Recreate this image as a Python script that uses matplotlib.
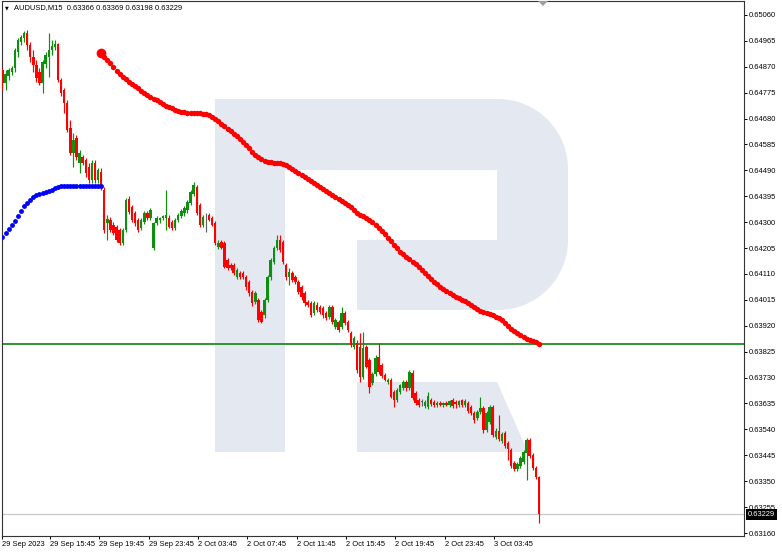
import numpy as np
import matplotlib
matplotlib.use("Agg")
import matplotlib.pyplot as plt
from matplotlib.path import Path
from matplotlib.patches import PathPatch, Polygon
import matplotlib.transforms as mtransforms

# ---------------- data (prices in points, 1 point = 0.00001) ----------------
opens = [64858, 64811, 64836, 64851, 64866, 64924, 64961, 64976, 64994, 64950,
         64906, 64877, 64851, 64811, 64880, 64906, 64932, 64943, 64954, 64822,
         64785, 64737, 64646, 64554, 64609, 64517, 64539, 64528, 64502, 64455,
         64517, 64455, 64484, 64418, 64297, 64308, 64290, 64282, 64271, 64224,
         64271, 64385, 64356, 64334, 64308, 64279, 64301, 64334, 64315, 64205,
         64297, 64308, 64315, 64315, 64315, 64301, 64279, 64308, 64323, 64334,
         64345, 64370, 64403, 64429, 64363, 64290, 64319, 64326, 64315, 64297,
         64209, 64227, 64224, 64161, 64143, 64143, 64099, 64114, 64114, 64099,
         64081, 64044, 64007, 64015, 63971, 63960, 64015, 64099, 64154, 64205,
         64235, 64227, 64143, 64099, 64114, 64099, 64081, 64062, 64040, 64007,
         64004, 63967, 63996, 63989, 63985, 63967, 63952, 63989, 63916, 63934,
         63916, 63967, 63934, 63894, 63842, 63857, 63842, 63732, 63842, 63795,
         63710, 63743, 63806, 63776, 63740, 63714, 63721, 63677, 63648, 63677,
         63692, 63714, 63692, 63747, 63674, 63648, 63641, 63626, 63622, 63648,
         63641, 63630, 63637, 63630, 63637, 63630, 63648, 63641, 63630, 63648,
         63630, 63637, 63622, 63600, 63582, 63604, 63619, 63538, 63567, 63622,
         63512, 63534, 63497, 63527, 63490, 63464, 63417, 63395, 63406, 63420,
         63453, 63501, 63446, 63398, 63366]
highs = [64866, 64858, 64866, 64873, 64939, 64976, 64987, 65001, 65005, 64961,
         64932, 64895, 64866, 64895, 64924, 64994, 64968, 64968, 64957, 64829,
         64792, 64748, 64675, 64627, 64620, 64565, 64547, 64535, 64517, 64528,
         64528, 64499, 64499, 64429, 64326, 64319, 64301, 64290, 64279, 64279,
         64389, 64396, 64363, 64341, 64315, 64315, 64341, 64341, 64352, 64301,
         64323, 64319, 64326, 64418, 64326, 64308, 64315, 64334, 64348, 64359,
         64381, 64418, 64447, 64436, 64370, 64326, 64334, 64334, 64323, 64304,
         64235, 64235, 64231, 64169, 64150, 64150, 64132, 64121, 64121, 64106,
         64088, 64051, 64048, 64022, 63978, 64022, 64106, 64169, 64213, 64253,
         64253, 64235, 64150, 64132, 64121, 64106, 64088, 64070, 64048, 64015,
         64011, 64011, 64007, 63996, 63993, 63974, 63996, 63996, 63949, 63941,
         63989, 63974, 63941, 63901, 63883, 63868, 63894, 63897, 63850, 63802,
         63751, 63813, 63857, 63784, 63747, 63729, 63729, 63685, 63692, 63707,
         63721, 63721, 63758, 63758, 63681, 63655, 63652, 63648, 63677, 63655,
         63648, 63644, 63644, 63641, 63644, 63648, 63655, 63648, 63648, 63652,
         63652, 63644, 63630, 63608, 63611, 63659, 63626, 63608, 63630, 63630,
         63545, 63593, 63530, 63534, 63497, 63472, 63424, 63420, 63442, 63464,
         63508, 63508, 63453, 63406, 63369]
lows = [64785, 64785, 64822, 64840, 64851, 64906, 64950, 64961, 64932, 64888,
        64851, 64814, 64803, 64774, 64866, 64833, 64913, 64932, 64814, 64763,
        64701, 64631, 64547, 64502, 64528, 64480, 64510, 64466, 64444, 64444,
        64444, 64444, 64418, 64260, 64235, 64264, 64253, 64227, 64216, 64216,
        64264, 64330, 64301, 64286, 64264, 64271, 64293, 64308, 64308, 64198,
        64290, 64297, 64308, 64271, 64279, 64271, 64271, 64301, 64315, 64323,
        64334, 64363, 64396, 64326, 64282, 64282, 64264, 64304, 64286, 64216,
        64202, 64202, 64132, 64125, 64125, 64106, 64092, 64092, 64092, 64051,
        64029, 63993, 64000, 63934, 63930, 63949, 64007, 64088, 64147, 64198,
        64191, 64147, 64088, 64070, 64081, 64073, 64037, 64015, 63993, 63989,
        63952, 63960, 63971, 63963, 63949, 63941, 63945, 63927, 63908, 63897,
        63908, 63923, 63897, 63842, 63835, 63747, 63714, 63725, 63765, 63674,
        63703, 63736, 63743, 63729, 63718, 63707, 63655, 63622, 63641, 63670,
        63685, 63681, 63685, 63648, 63630, 63622, 63626, 63619, 63615, 63626,
        63622, 63622, 63626, 63622, 63626, 63622, 63619, 63619, 63622, 63622,
        63622, 63600, 63593, 63563, 63574, 63597, 63527, 63530, 63560, 63512,
        63505, 63497, 63490, 63472, 63428, 63398, 63387, 63387, 63398, 63413,
        63355, 63435, 63391, 63358, 63198]
closes = [64811, 64844, 64858, 64866, 64932, 64968, 64979, 64994, 64950, 64906,
          64877, 64829, 64811, 64888, 64913, 64932, 64946, 64954, 64822, 64774,
          64737, 64638, 64554, 64602, 64539, 64554, 64517, 64480, 64455, 64517,
          64455, 64491, 64429, 64271, 64312, 64271, 64260, 64235, 64224, 64271,
          64381, 64337, 64308, 64297, 64271, 64308, 64334, 64315, 64345, 64297,
          64315, 64315, 64323, 64326, 64282, 64279, 64308, 64326, 64341, 64352,
          64374, 64411, 64436, 64334, 64290, 64319, 64319, 64308, 64290, 64224,
          64224, 64205, 64136, 64132, 64132, 64114, 64125, 64099, 64099, 64062,
          64040, 64004, 64040, 63941, 63934, 64015, 64099, 64161, 64205, 64235,
          64198, 64154, 64099, 64117, 64088, 64081, 64044, 64026, 64004, 63996,
          63960, 64004, 63978, 63971, 63960, 63949, 63989, 63934, 63941, 63905,
          63967, 63930, 63905, 63850, 63875, 63758, 63732, 63839, 63769, 63696,
          63743, 63802, 63751, 63736, 63721, 63721, 63659, 63648, 63685, 63703,
          63714, 63692, 63751, 63655, 63637, 63630, 63641, 63641, 63663, 63633,
          63630, 63637, 63630, 63637, 63630, 63644, 63626, 63633, 63644, 63630,
          63644, 63608, 63600, 63574, 63604, 63619, 63538, 63600, 63622, 63519,
          63534, 63505, 63523, 63479, 63468, 63406, 63395, 63413, 63435, 63457,
          63501, 63442, 63398, 63366, 63229]

# blue indicator (bars 0..32) and red indicator (bars 32..174)
blue_line = [64246, 64260, 64275, 64290, 64304, 64323, 64341, 64359, 64370, 64381,
             64392, 64400, 64403, 64407, 64411, 64414, 64418, 64425, 64429, 64433,
             64433, 64433, 64433, 64433, 64433, 64433, 64433, 64433, 64433, 64433,
             64433, 64433, 64433]
red_line = [64921, 64906, 64895, 64884, 64869, 64855, 64844, 64833, 64825, 64814,
            64807, 64800, 64792, 64781, 64774, 64767, 64759, 64752, 64748, 64741,
            64734, 64727, 64723, 64719, 64712, 64708, 64704, 64704, 64701, 64701,
            64701, 64701, 64701, 64697, 64697, 64693, 64686, 64679, 64671, 64660,
            64653, 64642, 64635, 64624, 64616, 64605, 64594, 64583, 64572, 64557,
            64546, 64539, 64532, 64524, 64521, 64521, 64517, 64517, 64517, 64513,
            64510, 64502, 64495, 64488, 64480, 64473, 64466, 64458, 64451, 64444,
            64436, 64429, 64422, 64414, 64407, 64400, 64392, 64385, 64378, 64370,
            64363, 64356, 64345, 64334, 64326, 64323, 64315, 64308, 64301, 64290,
            64279, 64268, 64257, 64242, 64231, 64216, 64205, 64191, 64183, 64172,
            64165, 64154, 64147, 64136, 64125, 64114, 64103, 64092, 64081, 64073,
            64062, 64055, 64048, 64040, 64033, 64026, 64022, 64015, 64011, 64004,
            63996, 63989, 63982, 63974, 63971, 63967, 63963, 63960, 63952, 63949,
            63941, 63930, 63919, 63908, 63901, 63893, 63886, 63879, 63871, 63868,
            63864, 63861, 63853]
red_start = 32
level_line = 0.63853

y_tick_labels = ["0.63160", "0.63255", "0.63350", "0.63445", "0.63540", "0.63635",
                 "0.63730", "0.63825", "0.63920", "0.64015", "0.64110", "0.64205",
                 "0.64300", "0.64395", "0.64490", "0.64585", "0.64680", "0.64775",
                 "0.64870", "0.64965", "0.65060"]
x_tick_bars = [0, 16, 32, 48, 64, 80, 96, 112, 128, 144, 160]
x_tick_labels = ["29 Sep 2023", "29 Sep 15:45", "29 Sep 19:45", "29 Sep 23:45",
                 "2 Oct 03:45", "2 Oct 07:45", "2 Oct 11:45", "2 Oct 15:45",
                 "2 Oct 19:45", "2 Oct 23:45", "3 Oct 03:45"]
symbol = "AUDUSD,M15"

# ---------------- figure ----------------
plt.rcParams["font.family"] = ["Liberation Sans", "DejaVu Sans"]
FS = 5.4
W, H = 782, 552
fig = plt.figure(figsize=(W / 100, H / 100), dpi=100, facecolor="white")
ax = fig.add_axes([2 / W, 16 / H, 742 / W, 535 / H])
ax.set_facecolor("white")

px = mtransforms.Affine2D().scale(1 / W, -1 / H).translate(0, 1) + fig.transFigure

# watermark logo
logo_c = "#E4E9F1"
k = 0.5523 * 70
bowl = Path(
    [(285, 99), (498, 99), (498 + k, 99), (568, 169 - k), (568, 169), (568, 240),
     (568, 240 + k), (498 + k, 310), (498, 310), (357, 310), (357, 240), (497, 240),
     (497, 170), (285, 170), (285, 99)],
    [Path.MOVETO, Path.LINETO, Path.CURVE4, Path.CURVE4, Path.CURVE4, Path.LINETO,
     Path.CURVE4, Path.CURVE4, Path.CURVE4, Path.LINETO, Path.LINETO, Path.LINETO,
     Path.LINETO, Path.LINETO, Path.CLOSEPOLY])
for patch in [PathPatch(bowl),
              Polygon([(215, 99), (285, 99), (285, 452), (215, 452)]),
              Polygon([(357, 382), (497, 382), (528, 452), (357, 452)])]:
    patch.set_transform(px)
    patch.set_facecolor(logo_c)
    patch.set_edgecolor("none")
    patch.set_zorder(0)
    patch.set_clip_on(False)
    ax.add_patch(patch)

O = np.array(opens) / 1e5
Hh = np.array(highs) / 1e5
L = np.array(lows) / 1e5
C = np.array(closes) / 1e5
x = np.arange(len(C))
green, red, grey = "#0F8F0F", "#FF0000", "#606060"
cols = np.where(C > O, green, np.where(C < O, red, grey))

ax.axhline(C[-1], color="#C8C8C8", lw=0.9, zorder=1)
ax.axhline(level_line, color="#1E8C1E", lw=1.3, zorder=2)

ax.vlines(x, L, Hh, colors=cols, lw=0.85, zorder=3)
body = np.maximum(np.abs(C - O), 0.000015)
ax.bar(x, body, bottom=np.minimum(O, C), width=0.8, color=cols, linewidth=0, zorder=4)

bl = np.array(blue_line) / 1e5
ax.plot(np.arange(len(bl)), bl, "o", color="#0000FF", ms=3.5, mew=0, zorder=5)
rl = np.array(red_line) / 1e5
xr = np.arange(red_start, red_start + len(rl))
ax.plot(xr, rl, "o", color="#FF0000", ms=3.9, mew=0, zorder=5)
ax.plot(xr[0], rl[0], "o", color="#FF0000", ms=7, mew=0, zorder=5)

ax.set_xlim(-0.16, 240.5)
ax.set_ylim(0.631490, 0.651113)

# y axis on right
yt = [float(s) for s in y_tick_labels]
ax.set_yticks(yt)
ax.set_yticklabels(y_tick_labels)
ax.yaxis.tick_right()
ax.tick_params(axis="y", right=True, left=False, labelright=True, labelleft=False,
               length=2.2, width=0.7, pad=1.5, labelsize=FS, colors="black")

# x axis
xpos = [b - 0.6 if b > 0 else -0.16 for b in x_tick_bars]
ax.set_xticks(xpos)
ax.set_xticklabels(x_tick_labels)
ax.tick_params(axis="x", length=2.2, width=0.7, pad=1.2, labelsize=FS, colors="black")
for lbl in ax.get_xticklabels():
    lbl.set_ha("left")

for s in ax.spines.values():
    s.set_color("#333333")
    s.set_linewidth(0.8)

# current price tag
bt = mtransforms.blended_transform_factory(ax.transAxes, ax.transData)
ax.text(1.0 + 4 / 742, C[-1], f"{C[-1]:.5f}", transform=bt, ha="left", va="center",
        color="white", fontsize=FS, zorder=10, clip_on=False,
        bbox=dict(boxstyle="square,pad=0.25", fc="black", ec="none"))

# header
fig.text(5 / W, 1 - 8 / H, "\u25BC", fontsize=3.5, va="center", ha="left",
         family=["DejaVu Sans"], color="black")
fig.text(14 / W, 1 - 7.5 / H,
         f"{symbol}  {O[-1]:.5f} {Hh[-1]:.5f} {L[-1]:.5f} {C[-1]:.5f}",
         fontsize=FS, va="center", ha="left", color="black")

# chart shift marker
fig.add_artist(Polygon([(538, 1), (548, 1), (543, 6)], closed=True, transform=px,
                       facecolor="#A0A0A0", edgecolor="none"))

fig.savefig("out.png", dpi=100, facecolor="white")
